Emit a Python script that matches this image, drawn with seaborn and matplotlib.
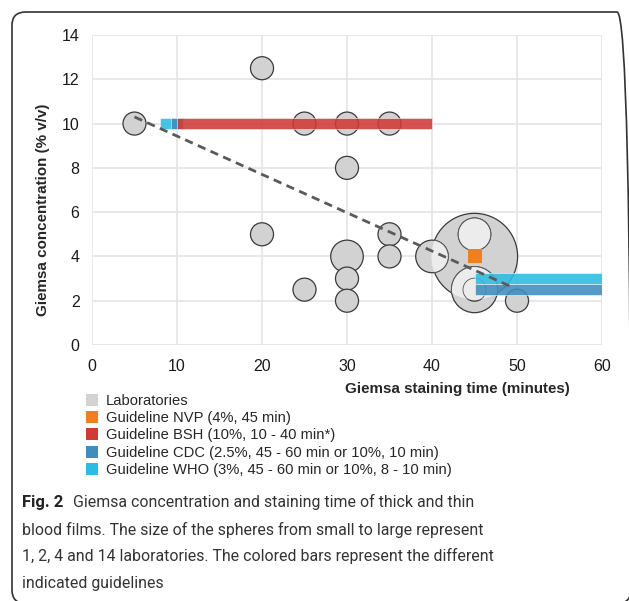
import matplotlib
matplotlib.use("Agg")
import matplotlib.pyplot as plt
from matplotlib.lines import Line2D
from matplotlib.patches import FancyBboxPatch, Circle
from matplotlib.transforms import IdentityTransform
import seaborn as sns
import pandas as pd
import numpy as np

# laboratories: staining time (min), Giemsa concentration (% v/v), number of labs
lab_time = [45, 45, 45, 30, 40, 5, 20, 20, 25, 25, 30, 30, 30, 30, 35, 35, 35, 45, 50]
lab_conc = [4, 2.5, 5, 4, 4, 10, 12.5, 5, 10, 2.5, 10, 8, 3, 2, 10, 5, 4, 2.5, 2]
lab_count = [14, 4, 2, 2, 2, 1, 1, 1, 1, 1, 1, 1, 1, 1, 1, 1, 1, 1, 1]

# guidelines drawn as bars (concentration, start and end time)
bar_guide = ["WHO", "WHO", "CDC", "CDC", "BSH"]
bar_conc = [10, 3, 10, 2.5, 10]
bar_start = [8, 45, 9.3, 45, 10]
bar_end = [10, 60, 10.7, 60, 40]

nvp_time = [45]
nvp_conc = [4]

# trend line end points
trend_time = [5, 49.5]
trend_conc = [10.3, 2.6]

colors = {"Laboratories": "#d2d2d2", "NVP": "#ef7f1f", "BSH": "#cf3a36",
          "CDC": "#3f8cbd", "WHO": "#2cbce2"}
legend_labels = ["Laboratories", "Guideline NVP (4%, 45 min)", "Guideline BSH (10%, 10 - 40 min*)",
                 "Guideline CDC (2.5%, 45 - 60 min or 10%, 10 min)",
                 "Guideline WHO (3%, 45 - 60 min or 10%, 8 - 10 min)"]

sns.set_style("white")
plt.rcParams["font.family"] = ["Liberation Sans", "DejaVu Sans"]

fig = plt.figure(figsize=(6.29, 6.01), dpi=100)
ax = fig.add_axes([92 / 629, 1 - 345 / 601, 510 / 629, 310 / 601])
ax.set_xlim(0, 60)
ax.set_ylim(0, 14)

labs = pd.DataFrame({"time": lab_time, "conc": lab_conc, "count": lab_count})
s1 = 275
sns.scatterplot(data=labs, x="time", y="conc", size="count", sizes=(s1, s1 * 14),
                size_norm=(1, 14), color=colors["Laboratories"], edgecolor="#3a3a3a",
                linewidth=0.9, alpha=1, legend=False, ax=ax, zorder=2)

# circles that overlap the biggest sphere look lighter inside it
big = labs.loc[labs["count"].idxmax()]
rest = labs.drop(labs["count"].idxmax())
sns.scatterplot(data=rest, x="time", y="conc", size="count", sizes=(s1, s1 * 14),
                size_norm=(1, 14), color="#ececec", edgecolor="#555555",
                linewidth=0.6, alpha=1, legend=False, ax=ax, zorder=2.5)
cx, cy = ax.transData.transform((big["time"], big["conc"]))
r_px = np.sqrt(s1 * big["count"]) / 2 * fig.dpi / 72
clip = Circle((cx, cy), r_px, transform=IdentityTransform())
ax.collections[-1].set_clip_path(clip)

for g, c, a, b in zip(bar_guide, bar_conc, bar_start, bar_end):
    ax.barh(c, b - a, left=a, height=0.5, color=colors[g], alpha=0.88,
            edgecolor="white", linewidth=0.4, zorder=3)

ax.scatter(nvp_time, nvp_conc, marker="s", s=100, color=colors["NVP"], zorder=4, linewidths=0)
ax.plot(trend_time, trend_conc, ls=(0, (3, 2)), color="#5a5a5a", lw=2, zorder=5)

ax.set_xticks(range(0, 61, 10))
ax.set_yticks(range(0, 15, 2))
ax.grid(True, color="#e4e4e4", lw=1.2)
ax.set_axisbelow(True)
for sp in ax.spines.values():
    sp.set_visible(False)
ax.tick_params(axis="both", colors="#cfcfcf", labelcolor="#1a1a1a", labelsize=11.5, length=4, width=1)
ax.tick_params(axis="x", pad=6)
ax.tick_params(axis="y", pad=5)
ax.set_xlabel("")
ax.set_ylabel("")

fig.text(457 / 629, 1 - 389 / 601, "Giemsa staining time (minutes)", ha="center", va="center",
         fontsize=10.9, fontweight="bold")
fig.text(43 / 629, 1 - 210 / 601, "Giemsa concentration (% v/v)", ha="center", va="center",
         rotation=90, fontsize=10.9, fontweight="bold")

handles = [Line2D([], [], marker="s", ls="", markersize=8, markeredgewidth=0, color=colors[k])
           for k in ["Laboratories", "NVP", "BSH", "CDC", "WHO"]]
fig.legend(handles, legend_labels, loc="upper left", bbox_to_anchor=(86 / 629, 1 - 394 / 601),
           frameon=False, fontsize=10.6, handlelength=0.8, handletextpad=0.55, labelspacing=0.22,
           borderaxespad=0, borderpad=0)

cap_font = ["Roboto", "DejaVu Sans"]
cap_size = 11.4
fig.text(22 / 629, 1 - 507 / 601, "Fig. 2", fontsize=cap_size + 0.6, fontweight="bold", family=cap_font,
         va="baseline", color="#222222")
fig.text(73 / 629, 1 - 507 / 601, "Giemsa concentration and staining time of thick and thin",
         fontsize=cap_size, family=cap_font, va="baseline", color="#333333")
cap_lines = ["blood films. The size of the spheres from small to large represent",
             "1, 2, 4 and 14 laboratories. The colored bars represent the different",
             "indicated guidelines"]
for i, line in enumerate(cap_lines):
    fig.text(22 / 629, 1 - (535 + 26.5 * i) / 601, line, fontsize=cap_size, family=cap_font,
             va="baseline", color="#333333")

box = FancyBboxPatch((12 / 629, -0.004), 1.0 - 12 / 629 + 0.003, 1 - 12 / 601 + 0.004,
                     boxstyle="round,pad=0,rounding_size=0.022", transform=fig.transFigure,
                     fill=False, edgecolor="#333333", lw=1.2)
fig.patches.append(box)

fig.savefig("out.png", dpi=100)
